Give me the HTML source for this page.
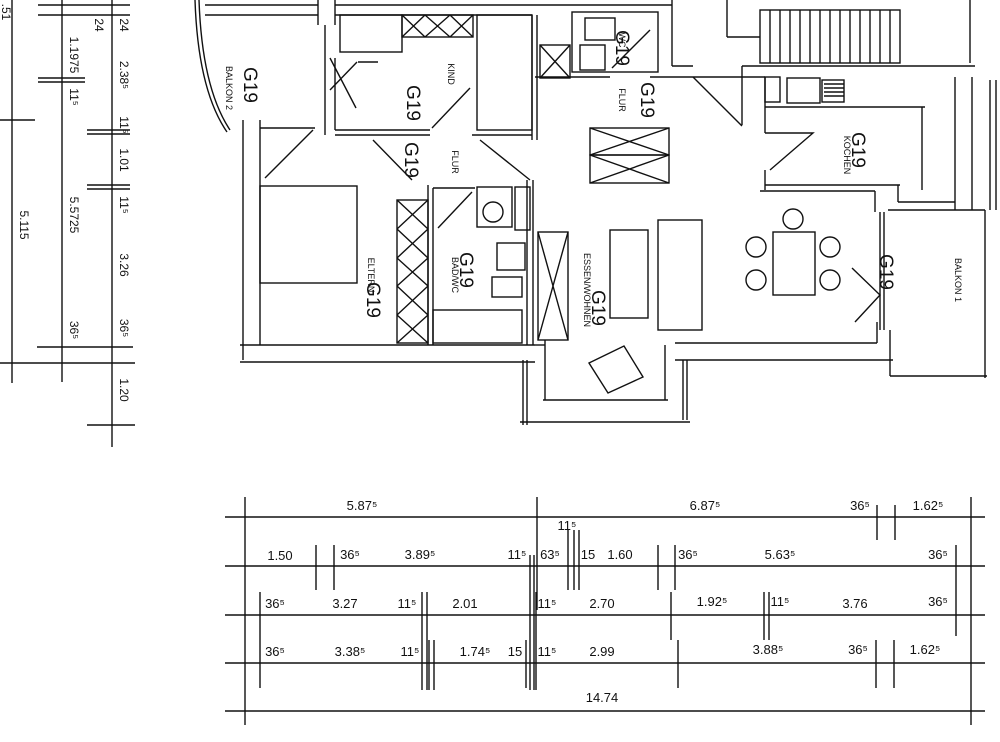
<!DOCTYPE html>
<html><head><meta charset="utf-8"><style>
html,body{margin:0;padding:0;background:#fff;}
svg{display:block}
text{font-family:"Liberation Sans Narrow","Liberation Sans",sans-serif;fill:#111;}
</style></head><body>
<svg width="1000" height="742" viewBox="0 0 1000 742" xmlns="http://www.w3.org/2000/svg">
<g stroke="#111" stroke-width="1.4" fill="none">
<!-- left dimension strip -->
<line x1="12" y1="0" x2="12" y2="383"/><line x1="62" y1="0" x2="62" y2="382"/><line x1="112" y1="0" x2="112" y2="447"/>
<line x1="38" y1="5" x2="130" y2="5"/><line x1="38" y1="15" x2="130" y2="15"/>
<line x1="0" y1="120" x2="35" y2="120"/><line x1="0" y1="363" x2="135" y2="363"/>
<line x1="37" y1="347" x2="133" y2="347"/><line x1="87" y1="425" x2="135" y2="425"/>
<line x1="38" y1="78" x2="85" y2="78"/><line x1="38" y1="82" x2="85" y2="82"/>
<line x1="87" y1="130" x2="130" y2="130"/><line x1="87" y1="134" x2="130" y2="134"/>
<line x1="87" y1="185" x2="130" y2="185"/><line x1="87" y1="189" x2="130" y2="189"/>

<!-- balcony 2 arc -->
<path d="M195 0 Q198 90 227 132"/><path d="M199 0 Q202 88 230 130"/>
<line x1="205" y1="5" x2="318" y2="5"/><line x1="205" y1="15" x2="318" y2="15"/>
<line x1="318" y1="0" x2="318" y2="25"/><line x1="335" y1="0" x2="335" y2="25"/>
<line x1="335" y1="5" x2="672" y2="5"/><line x1="335" y1="15" x2="532" y2="15"/>
<!-- kind -->
<rect x="340" y="15" width="62" height="37"/>
<rect x="402" y="15" width="71" height="22"/>
<path d="M402 15 L425 37 M425 15 L402 37 M425 15 L450 37 M450 15 L425 37 M450 15 L473 37 M473 15 L450 37"/>
<line x1="325" y1="25" x2="325" y2="135"/><line x1="335" y1="58" x2="335" y2="130"/>
<path d="M330 58 L356 108 M330 90 L357 62 M358 62 L378 62"/>
<line x1="335" y1="130" x2="430" y2="130"/><line x1="335" y1="135" x2="430" y2="135"/>
<path d="M432 128 L470 88"/>
<rect x="477" y="15" width="55" height="115"/>
<line x1="532" y1="15" x2="532" y2="140"/><line x1="537" y1="15" x2="537" y2="140"/>
<line x1="472" y1="135" x2="532" y2="135"/>
<!-- eltern -->
<line x1="243" y1="120" x2="243" y2="360"/><line x1="260" y1="120" x2="260" y2="345"/>
<line x1="260" y1="128" x2="315" y2="128"/>
<path d="M265 178 L313 130"/>
<rect x="260" y="186" width="97" height="97"/>
<line x1="240" y1="345" x2="535" y2="345"/><line x1="240" y1="362" x2="535" y2="362"/>
<rect x="397" y="200" width="31" height="143"/>
<path d="M397 200 L428 229 M428 200 L397 229 M397 229 L428 258 M428 229 L397 258 M397 258 L428 286 M428 258 L397 286 M397 286 L428 315 M428 286 L397 315 M397 315 L428 343 M428 315 L397 343"/>
<path d="M373 140 L412 180 M480 140 L530 180"/>
<!-- bad -->
<line x1="428" y1="185" x2="428" y2="345"/><line x1="433" y1="188" x2="433" y2="345"/>
<line x1="433" y1="188" x2="475" y2="188"/>
<path d="M438 228 L472 192"/>
<line x1="527" y1="180" x2="527" y2="345"/><line x1="533" y1="180" x2="533" y2="345"/>
<rect x="477" y="187" width="35" height="40"/><circle cx="493" cy="212" r="10"/>
<rect x="515" y="187" width="15" height="43"/>
<rect x="497" y="243" width="28" height="27"/><rect x="492" y="277" width="30" height="20"/>
<rect x="433" y="310" width="89" height="33"/>
<!-- esszimmer cupboard -->
<rect x="538" y="232" width="30" height="108"/><path d="M538 232 L568 340 M568 232 L538 340"/>
<!-- WC -->
<rect x="572" y="12" width="86" height="60"/>
<rect x="540" y="45" width="30" height="33"/><path d="M540 45 L570 78 M570 45 L540 78"/>
<rect x="585" y="18" width="30" height="22"/><rect x="580" y="45" width="25" height="25"/>
<path d="M612 68 L650 30"/>
<line x1="535" y1="77" x2="610" y2="77"/><line x1="650" y1="77" x2="765" y2="77"/>
<line x1="672" y1="0" x2="672" y2="66"/><line x1="672" y1="66" x2="693" y2="66"/>
<path d="M693 77 L742 126"/>
<!-- flur cupboards -->
<rect x="590" y="128" width="79" height="27"/><path d="M590 128 L669 155 M669 128 L590 155"/>
<rect x="590" y="155" width="79" height="28"/><path d="M590 155 L669 183 M669 155 L590 183"/>
<!-- stair -->
<line x1="727" y1="0" x2="727" y2="37"/><line x1="727" y1="37" x2="760" y2="37"/>
<rect x="760" y="10" width="140" height="53"/>
<path d="M770 10V63M780 10V63M790 10V63M800 10V63M810 10V63M820 10V63M830 10V63M840 10V63M850 10V63M860 10V63M870 10V63M880 10V63M890 10V63"/>
<line x1="970" y1="0" x2="970" y2="63"/>
<line x1="742" y1="66" x2="975" y2="66"/><line x1="742" y1="66" x2="742" y2="125"/>
<!-- kochen -->
<rect x="765" y="77" width="15" height="25"/><rect x="787" y="78" width="33" height="25"/>
<rect x="822" y="80" width="22" height="22"/>
<path d="M824 84H844M824 88H844M824 92H844M824 96H844"/>
<line x1="765" y1="77" x2="765" y2="133"/><line x1="765" y1="107" x2="925" y2="107"/>
<line x1="922" y1="107" x2="922" y2="190"/>
<line x1="955" y1="77" x2="955" y2="210"/><line x1="972" y1="77" x2="972" y2="210"/>
<path d="M765 133 L813 133 L770 170"/>
<line x1="765" y1="170" x2="765" y2="190"/>
<line x1="765" y1="185" x2="900" y2="185"/><line x1="760" y1="191" x2="875" y2="191"/>
<line x1="875" y1="191" x2="875" y2="212"/><line x1="898" y1="185" x2="898" y2="202"/>
<line x1="898" y1="202" x2="955" y2="202"/>
<!-- living -->
<rect x="610" y="230" width="38" height="88"/>
<rect x="658" y="220" width="44" height="110"/>
<rect x="773" y="232" width="42" height="63"/>
<circle cx="793" cy="219" r="10"/><circle cx="756" cy="247" r="10"/><circle cx="830" cy="247" r="10"/>
<circle cx="756" cy="280" r="10"/><circle cx="830" cy="280" r="10"/>
<polygon points="589,363 624,346 643,377 608,393"/>
<!-- balkon 1 -->
<line x1="880" y1="212" x2="880" y2="330"/><line x1="884" y1="212" x2="884" y2="330"/>
<path d="M852 268 L880 295 L855 322"/>
<line x1="888" y1="210" x2="985" y2="210"/>
<line x1="985" y1="210" x2="985" y2="378"/><line x1="890" y1="376" x2="987" y2="376"/>
<line x1="890" y1="330" x2="890" y2="376"/>
<line x1="675" y1="343" x2="877" y2="343"/><line x1="675" y1="360" x2="893" y2="360"/>
<line x1="877" y1="322" x2="877" y2="343"/>
<!-- bay -->
<line x1="545" y1="340" x2="545" y2="400"/><line x1="543" y1="400" x2="668" y2="400"/>
<line x1="665" y1="345" x2="665" y2="400"/>
<line x1="523" y1="360" x2="523" y2="425"/><line x1="527" y1="360" x2="527" y2="425"/>
<line x1="683" y1="360" x2="683" y2="420"/><line x1="687" y1="360" x2="687" y2="420"/>
<line x1="520" y1="422" x2="690" y2="422"/>
<line x1="535" y1="345" x2="545" y2="345"/>
<!-- right edge -->
<line x1="990" y1="80" x2="990" y2="210"/><line x1="996" y1="80" x2="996" y2="210"/>

<!-- bottom dimensions -->
<line x1="225" y1="517" x2="985" y2="517"/><line x1="225" y1="566" x2="985" y2="566"/>
<line x1="225" y1="615" x2="985" y2="615"/><line x1="225" y1="663" x2="985" y2="663"/>
<line x1="225" y1="711" x2="985" y2="711"/>
<line x1="245" y1="497" x2="245" y2="725"/><line x1="537" y1="497" x2="537" y2="610"/>
<line x1="971" y1="497" x2="971" y2="725"/>
<path d="M877 505V540M895 505V540"/>
<path d="M316 545V590M334 545V590M530 555V690M534 555V690M568 530V590M574 530V590M579 530V590M658 545V590M675 545V590M956 545V636"/>
<path d="M260 592V640M422 592V690M427 592V690M536 592V690M671 592V640M764 592V640M769 592V640"/>
<path d="M260 640V688M429 640V690M434 640V690M526 640V688M678 640V688M876 640V688M894 640V688"/>
</g>
<g font-size="13">
<text x="362" y="510" text-anchor="middle">5.87⁵</text>
<text x="705" y="510" text-anchor="middle">6.87⁵</text>
<text x="860" y="510" text-anchor="middle">36⁵</text>
<text x="928" y="510" text-anchor="middle">1.62⁵</text>
<text x="567" y="530" text-anchor="middle">11⁵</text>
<text x="280" y="560" text-anchor="middle">1.50</text>
<text x="350" y="559" text-anchor="middle">36⁵</text>
<text x="420" y="559" text-anchor="middle">3.89⁵</text>
<text x="517" y="559" text-anchor="middle">11⁵</text>
<text x="550" y="559" text-anchor="middle">63⁵</text>
<text x="588" y="559" text-anchor="middle">15</text>
<text x="620" y="559" text-anchor="middle">1.60</text>
<text x="688" y="559" text-anchor="middle">36⁵</text>
<text x="780" y="559" text-anchor="middle">5.63⁵</text>
<text x="938" y="559" text-anchor="middle">36⁵</text>
<text x="275" y="608" text-anchor="middle">36⁵</text>
<text x="345" y="608" text-anchor="middle">3.27</text>
<text x="407" y="608" text-anchor="middle">11⁵</text>
<text x="465" y="608" text-anchor="middle">2.01</text>
<text x="547" y="608" text-anchor="middle">11⁵</text>
<text x="602" y="608" text-anchor="middle">2.70</text>
<text x="712" y="606" text-anchor="middle">1.92⁵</text>
<text x="780" y="606" text-anchor="middle">11⁵</text>
<text x="855" y="608" text-anchor="middle">3.76</text>
<text x="938" y="606" text-anchor="middle">36⁵</text>
<text x="275" y="656" text-anchor="middle">36⁵</text>
<text x="350" y="656" text-anchor="middle">3.38⁵</text>
<text x="410" y="656" text-anchor="middle">11⁵</text>
<text x="475" y="656" text-anchor="middle">1.74⁵</text>
<text x="515" y="656" text-anchor="middle">15</text>
<text x="547" y="656" text-anchor="middle">11⁵</text>
<text x="602" y="656" text-anchor="middle">2.99</text>
<text x="768" y="654" text-anchor="middle">3.88⁵</text>
<text x="858" y="654" text-anchor="middle">36⁵</text>
<text x="925" y="654" text-anchor="middle">1.62⁵</text>
<text x="602" y="702" text-anchor="middle">14.74</text>
</g>
<g font-size="12">
<text transform="translate(120,25) rotate(90)" text-anchor="middle">24</text>
<text transform="translate(120,75) rotate(90)" text-anchor="middle">2.38⁵</text>
<text transform="translate(120,125) rotate(90)" text-anchor="middle">11⁵</text>
<text transform="translate(120,160) rotate(90)" text-anchor="middle">1.01</text>
<text transform="translate(120,205) rotate(90)" text-anchor="middle">11⁵</text>
<text transform="translate(120,265) rotate(90)" text-anchor="middle">3.26</text>
<text transform="translate(120,328) rotate(90)" text-anchor="middle">36⁵</text>
<text transform="translate(120,390) rotate(90)" text-anchor="middle">1.20</text>
<text transform="translate(95,25) rotate(90)" text-anchor="middle">24</text>
<text transform="translate(70,55) rotate(90)" text-anchor="middle">1.1975</text>
<text transform="translate(70,97) rotate(90)" text-anchor="middle">11⁵</text>
<text transform="translate(70,215) rotate(90)" text-anchor="middle">5.5725</text>
<text transform="translate(70,330) rotate(90)" text-anchor="middle">36⁵</text>
<text transform="translate(20,225) rotate(90)" text-anchor="middle">5.115</text>
<text transform="translate(2,12) rotate(90)" text-anchor="middle">.51</text>
</g>
<g font-size="9">
<text transform="translate(226,88) rotate(90)" text-anchor="middle">BALKON 2</text>
<text transform="translate(448,74) rotate(90)" text-anchor="middle">KIND</text>
<text transform="translate(452,162) rotate(90)" text-anchor="middle">FLUR</text>
<text transform="translate(368,275) rotate(90)" text-anchor="middle">ELTERN</text>
<text transform="translate(452,275) rotate(90)" text-anchor="middle">BAD/WC</text>
<text transform="translate(584,290) rotate(90)" text-anchor="middle">ESSEN/WOHNEN</text>
<text transform="translate(619,40) rotate(90)" text-anchor="middle">WC</text>
<text transform="translate(619,100) rotate(90)" text-anchor="middle">FLUR</text>
<text transform="translate(844,155) rotate(90)" text-anchor="middle">KOCHEN</text>
<text transform="translate(955,280) rotate(90)" text-anchor="middle">BALKON 1</text>
</g>
<g font-size="19">
<text transform="translate(244,85) rotate(90)" text-anchor="middle">G19</text>
<text transform="translate(407,103) rotate(90)" text-anchor="middle">G19</text>
<text transform="translate(405,160) rotate(90)" text-anchor="middle">G19</text>
<text transform="translate(367,300) rotate(90)" text-anchor="middle">G19</text>
<text transform="translate(460,270) rotate(90)" text-anchor="middle">G19</text>
<text transform="translate(592,308) rotate(90)" text-anchor="middle">G19</text>
<text transform="translate(616,48) rotate(90)" text-anchor="middle">G19</text>
<text transform="translate(641,100) rotate(90)" text-anchor="middle">G19</text>
<text transform="translate(852,150) rotate(90)" text-anchor="middle">G19</text>
<text transform="translate(880,272) rotate(90)" text-anchor="middle">G19</text>
</g>
</svg>
</body></html>
